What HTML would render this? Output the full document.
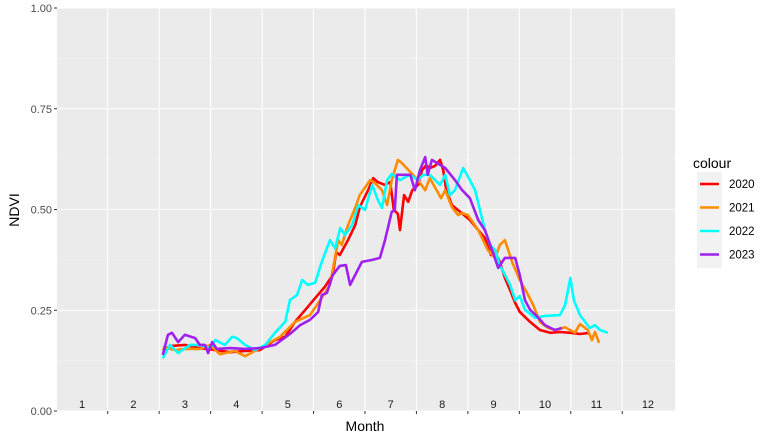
<!DOCTYPE html>
<html><head><meta charset="utf-8"><style>
body{margin:0;background:#fff;font-family:"Liberation Sans",sans-serif}
svg text{font-family:"Liberation Sans",sans-serif}
</style></head><body>
<svg id="c" width="773" height="442" xmlns="http://www.w3.org/2000/svg">
<rect x="57" y="8" width="618" height="403" fill="#ebebeb"/>
<g id="grid"></g><g id="series"></g><g id="axes"></g>
<text x="365" y="431" font-size="14" text-anchor="middle" fill="#000">Month</text>
<text transform="translate(19,210) rotate(-90)" font-size="14" text-anchor="middle" fill="#000">NDVI</text>
<g>
<text x="693" y="168" font-size="14" fill="#000">colour</text>
<rect x="697" y="172" width="25" height="96" fill="#f2f2f2"/>
<g id="legend"></g>
</g>
</svg>
<script>
const months=[1,2,3,4,5,6,7,8,9,10,11,12];
const yTicks=[0,0.25,0.5,0.75,1];
const yTickLabels=["0.00","0.25","0.50","0.75","1.00"];
const years=["2020","2021","2022","2023"];
const colors=["#ff0000","#ff8c00","#00ffff","#a020f0"];
const m2020=[2.57,2.71,3.00,3.29,3.59,3.88,4.17,4.46,4.75,4.95,5.14,5.34,5.53,5.72,5.87,5.94,6.01,6.17,6.31,6.40,6.56,6.66,6.75,6.89,6.99,7.06,7.14,7.18,7.26,7.34,7.42,7.53,7.61,7.69,7.76,7.86,7.96,8.02,8.08,8.19,8.35,8.54,8.70,8.83,8.95,9.03,9.12,9.22,9.32,9.42,9.51,9.71,9.90,10.10,10.29,10.49,10.68,10.87];
const v2020=[0.151,0.161,0.164,0.156,0.151,0.146,0.149,0.151,0.176,0.184,0.221,0.251,0.280,0.308,0.337,0.394,0.387,0.424,0.461,0.506,0.548,0.578,0.568,0.561,0.568,0.499,0.489,0.449,0.536,0.519,0.548,0.561,0.598,0.610,0.603,0.608,0.623,0.598,0.548,0.511,0.494,0.474,0.449,0.429,0.387,0.394,0.370,0.330,0.300,0.268,0.246,0.221,0.201,0.194,0.196,0.194,0.191,0.194];
const m2021=[2.57,2.81,3.00,3.29,3.49,3.68,3.97,4.17,4.46,4.85,5.14,5.43,5.63,5.82,5.98,6.05,6.11,6.17,6.31,6.40,6.60,6.69,6.83,6.93,7.02,7.14,7.22,7.38,7.53,7.67,7.76,7.98,8.06,8.19,8.31,8.39,8.50,8.70,8.89,9.03,9.12,9.22,9.36,9.51,9.67,9.77,9.90,10.06,10.21,10.39,10.58,10.68,10.83,10.91,10.97,11.05];
const v2021=[0.159,0.151,0.154,0.154,0.164,0.141,0.149,0.136,0.156,0.184,0.221,0.238,0.275,0.313,0.424,0.412,0.437,0.461,0.504,0.536,0.573,0.566,0.548,0.511,0.573,0.623,0.615,0.593,0.573,0.548,0.578,0.528,0.548,0.506,0.486,0.491,0.486,0.449,0.399,0.380,0.412,0.424,0.370,0.325,0.288,0.263,0.221,0.206,0.201,0.208,0.194,0.216,0.201,0.176,0.196,0.169];
const m2022=[2.57,2.71,2.87,3.10,3.29,3.49,3.59,3.78,3.92,4.01,4.17,4.36,4.56,4.75,4.95,5.04,5.18,5.28,5.39,5.53,5.66,5.82,5.92,6.02,6.11,6.25,6.37,6.50,6.64,6.75,6.83,6.93,7.02,7.18,7.37,7.53,7.63,7.76,7.96,8.06,8.15,8.25,8.41,8.54,8.64,8.83,8.93,9.03,9.12,9.32,9.42,9.51,9.61,9.81,10.00,10.29,10.39,10.49,10.56,10.68,10.87,10.97,11.07,11.22];
const v2022=[0.131,0.164,0.144,0.164,0.164,0.156,0.176,0.164,0.184,0.181,0.164,0.151,0.164,0.194,0.221,0.275,0.288,0.325,0.313,0.318,0.370,0.424,0.404,0.454,0.437,0.461,0.511,0.499,0.561,0.524,0.504,0.573,0.588,0.573,0.586,0.573,0.586,0.586,0.561,0.586,0.536,0.548,0.603,0.573,0.548,0.449,0.412,0.399,0.362,0.313,0.275,0.285,0.251,0.231,0.236,0.238,0.263,0.330,0.275,0.238,0.206,0.213,0.201,0.194];
const m2023=[2.57,2.67,2.75,2.87,3.00,3.20,3.29,3.39,3.45,3.53,3.62,3.88,4.17,4.46,4.75,5.04,5.24,5.43,5.59,5.66,5.76,5.87,6.01,6.13,6.21,6.44,6.64,6.79,6.89,7.02,7.08,7.12,7.28,7.38,7.47,7.57,7.67,7.72,7.80,8.06,8.25,8.39,8.54,8.70,8.83,8.97,9.09,9.22,9.42,9.51,9.61,9.71,9.86,10.00,10.19,10.33];
const v2023=[0.139,0.189,0.194,0.171,0.189,0.181,0.164,0.164,0.144,0.171,0.154,0.156,0.154,0.156,0.164,0.191,0.213,0.226,0.246,0.288,0.293,0.337,0.360,0.362,0.313,0.370,0.375,0.380,0.424,0.494,0.499,0.586,0.586,0.586,0.548,0.598,0.630,0.586,0.623,0.603,0.573,0.548,0.528,0.474,0.449,0.399,0.355,0.380,0.380,0.337,0.275,0.251,0.233,0.213,0.201,0.206];
const seriesM=[m2020,m2021,m2022,m2023];
const seriesV=[v2020,v2021,v2022,v2023];

const NS="http://www.w3.org/2000/svg";
const X0=57,X1=675,Y0=411,Y1=8;
const xs=m=>82+(m-1)*51.45;
const ys=v=>Y0-(v-0)/(1-0)*(Y0-Y1);
function mk(t,p,a){const e=document.createElementNS(NS,t);for(const k in a)e.setAttribute(k,a[k]);p.appendChild(e);return e;}
const grid=document.getElementById('grid'),axes=document.getElementById('axes'),ser=document.getElementById('series'),leg=document.getElementById('legend');
for(let i=0;i<yTicks.length-1;i++){
  const l=mk('line',grid,{x1:X0,x2:X1,y1:ys((yTicks[i]+yTicks[i+1])/2),y2:ys((yTicks[i]+yTicks[i+1])/2),stroke:'#f5f5f5','stroke-width':0.6});
  
  
}
yTicks.forEach((t,i)=>{
  const l=mk('line',grid,{x1:X0,x2:X1,y1:ys(t),y2:ys(t),stroke:'#fff','stroke-width':1.1});
  
  
  const tk=mk('line',axes,{x1:X0-3,x2:X0,y1:ys(t),y2:ys(t),stroke:'#333','stroke-width':1});
  
  
  const tx=mk('text',axes,{x:X0-5,y:ys(t)+4,'font-size':11,'text-anchor':'end',fill:'#4d4d4d'});
  tx.textContent=yTickLabels[i];
  
  
});
months.forEach(m=>{
  if(m<12){
    const g=mk('line',grid,{x1:xs(m+0.5),x2:xs(m+0.5),y1:Y1,y2:Y0,stroke:'#fff','stroke-width':1.1});
    
    
    const tk=mk('line',axes,{x1:xs(m+0.5),x2:xs(m+0.5),y1:Y0,y2:Y0+3,stroke:'#333','stroke-width':1});
    
    
  }
  const tx=mk('text',axes,{x:xs(m),y:408,'font-size':11,'text-anchor':'middle',fill:'#1a1a1a'});
  tx.textContent=String(m);
  
  
});
seriesM.forEach((ms,i)=>{
  const d=ms.map((m,j)=>(j?'L':'M')+xs(m).toFixed(1)+','+ys(seriesV[i][j]).toFixed(1)).join('');
  const p=mk('path',ser,{d:d,fill:'none',stroke:colors[i],'stroke-width':2.6,'stroke-linejoin':'round'});
  
  
  const y=184+i*23.5;
  const kl=mk('line',leg,{x1:700,x2:719,y1:y,y2:y,stroke:colors[i],'stroke-width':2.6});
  
  
  const kt=mk('text',leg,{x:729,y:y+4,'font-size':11.5,fill:'#000'});
  kt.textContent=years[i];
  
  
});
</script>
</body></html>
